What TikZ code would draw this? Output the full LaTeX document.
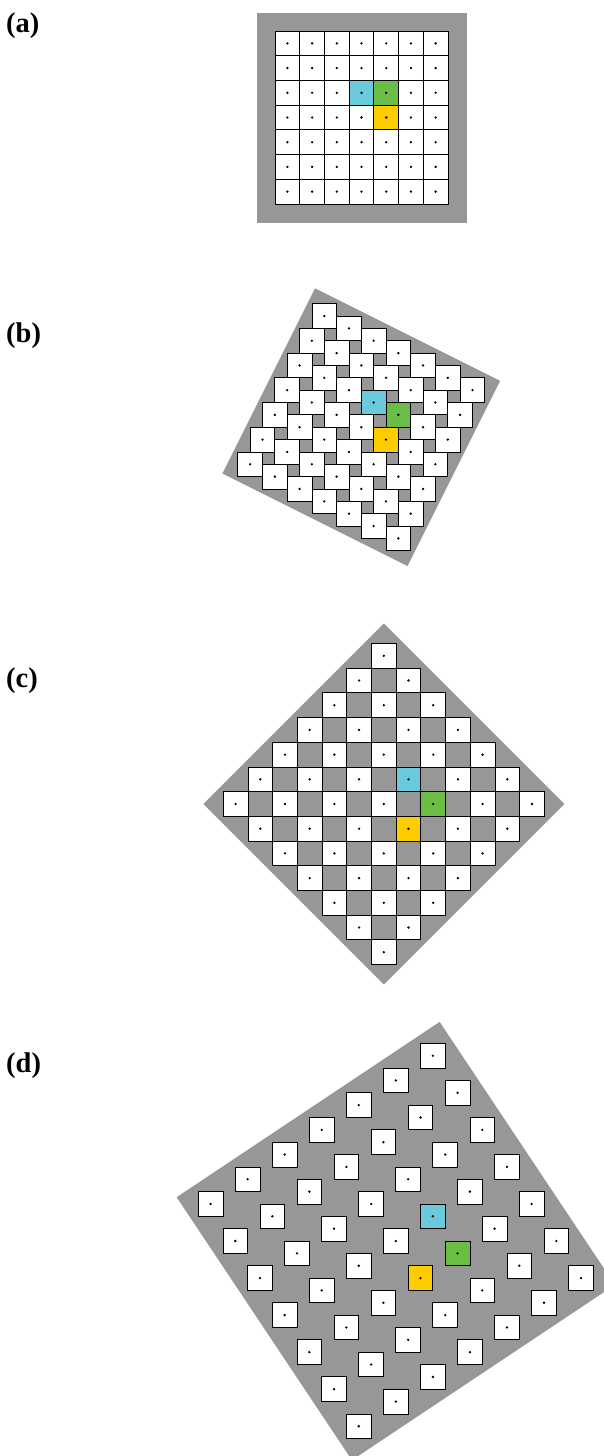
\documentclass[tikz,border=0pt]{standalone}
\usepackage{fontspec}
\setmainfont{Liberation Serif}
\definecolor{bggray}{RGB}{150,151,150}
\definecolor{pcyan}{RGB}{104,202,218}
\definecolor{pgreen}{RGB}{108,189,69}
\definecolor{pyellow}{RGB}{255,204,0}
\tikzset{
  cellbox/.style={draw=black, line width=0.75pt, minimum size=24.7pt, inner sep=0pt, outer sep=0pt},
  plate/.style={fill=bggray},
  pixdot/.style={fill=black},
  panellabel/.style={font=\fontsize{28.5}{30}\selectfont\bfseries, anchor=base west, inner sep=0pt}
}
% #1 name, #2 cx, #3 cy, #4 tan(theta), #5 half side of gray plate
\newcommand\drawlattice[5]{%
  \pgfmathsetmacro\cth{1/sqrt(1+(#4)*(#4))}%
  \pgfmathsetmacro\sth{(#4)*\cth}%
  \fill[plate] ({#2+#5*(-\cth+\sth)},{#3+#5*(-\sth-\cth)})
            -- ({#2+#5*(\cth+\sth)},{#3+#5*(\sth-\cth)})
            -- ({#2+#5*(\cth-\sth)},{#3+#5*(\sth+\cth)})
            -- ({#2+#5*(-\cth-\sth)},{#3+#5*(-\sth+\cth)}) -- cycle;
  \foreach \ri in {0,...,6}{%
    \foreach \ci in {0,...,6}{%
      \pgfmathsetmacro\px{#2+24.7*((\ci-3)-(#4)*(\ri-3))}%
      \pgfmathsetmacro\py{#3+24.7*((#4)*(\ci-3)+(\ri-3))}%
      \def\cellfill{white}%
      \ifnum\ri=2 \ifnum\ci=3 \def\cellfill{pcyan}\fi\ifnum\ci=4 \def\cellfill{pgreen}\fi\fi
      \ifnum\ri=3 \ifnum\ci=4 \def\cellfill{pyellow}\fi\fi
      \node[cellbox, fill=\cellfill] (#1-\ri-\ci) at (\px,\py) {};
      \fill[pixdot] (#1-\ri-\ci.center) circle (1.3);
    }%
  }%
}
\begin{document}
\begin{tikzpicture}[x=1pt, y=-1pt]
  \clip (0,0) rectangle (604,1456);
  \fill[white] (0,0) rectangle (604,1456);

  \drawlattice{a}{361.5}{117.5}{0}{105}
  \drawlattice{b}{361.3}{427.2}{0.5}{103.5}
  \drawlattice{c}{383.8}{804}{1}{127.6}
  \drawlattice{d}{395.8}{1241}{1.5}{158}

  \node[panellabel] (la) at (6,32) {(a)};
  \node[panellabel] (lb) at (6,342) {(b)};
  \node[panellabel] (lc) at (6,687) {(c)};
  \node[panellabel] (ld) at (6,1072) {(d)};
\end{tikzpicture}
\end{document}
